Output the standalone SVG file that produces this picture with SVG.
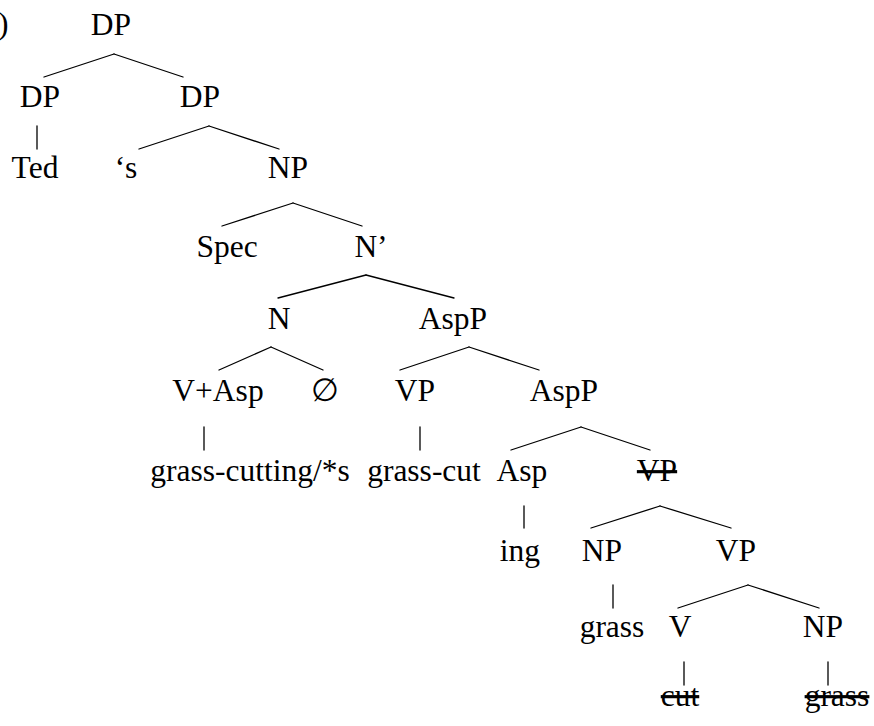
<svg xmlns="http://www.w3.org/2000/svg" width="874" height="726" viewBox="0 0 874 726" font-family="Liberation Serif, Times New Roman, DejaVu Serif, serif">
<style>
text{font-family:Liberation Serif, Times New Roman, DejaVu Serif, serif;font-size:31.5px;fill:#000;text-anchor:middle}
.s{text-decoration:line-through}
#edges line{stroke:#000;stroke-width:1.3;stroke-linecap:round}
</style>
<rect width="874" height="726" fill="#fff"/>
<text x="-2" y="34" style="text-anchor:start" font-family="Liberation Serif, serif">)</text>
<g id="edges">
<line x1="114" y1="54" x2="44" y2="77"/><line x1="114" y1="54" x2="183" y2="77"/>
<line x1="37" y1="126" x2="37" y2="149"/>
<line x1="209" y1="126" x2="139" y2="149"/><line x1="209" y1="126" x2="279" y2="149"/>
<line x1="293" y1="203" x2="222" y2="226"/><line x1="293" y1="203" x2="362" y2="226"/>
<line x1="366" y1="275" x2="278" y2="298"/><line x1="366" y1="275" x2="454" y2="298"/>
<line x1="271" y1="347" x2="219" y2="370"/><line x1="271" y1="347" x2="323" y2="370"/>
<line x1="469" y1="347" x2="400" y2="370"/><line x1="469" y1="347" x2="539" y2="370"/>
<line x1="204" y1="427" x2="204" y2="450"/>
<line x1="420" y1="427" x2="420" y2="450"/>
<line x1="581" y1="427" x2="511" y2="450"/><line x1="581" y1="427" x2="650" y2="450"/>
<line x1="524" y1="506" x2="524" y2="528"/>
<line x1="660" y1="506" x2="591" y2="528"/><line x1="660" y1="506" x2="731" y2="528"/>
<line x1="613" y1="585" x2="613" y2="608"/>
<line x1="748" y1="585" x2="678" y2="608"/><line x1="748" y1="585" x2="819" y2="608"/>
<line x1="684" y1="662" x2="684" y2="685"/>
<line x1="828" y1="662" x2="828" y2="685"/>
</g>
<g id="n-dp0"><text x="111" y="35">DP</text></g>
<g id="n-dp1"><text x="40" y="107">DP</text></g>
<g id="n-dp2"><text x="200" y="107">DP</text></g>
<g id="n-ted"><text x="35" y="178">Ted</text></g>
<g id="n-s"><text x="126" y="178">‘s</text></g>
<g id="n-np1"><text x="288" y="178">NP</text></g>
<g id="n-spec"><text x="227" y="257">Spec</text></g>
<g id="n-nbar"><text x="371" y="257">N’</text></g>
<g id="n-n"><text x="279" y="329">N</text></g>
<g id="n-aspp1"><text x="453" y="329">AspP</text></g>
<g id="n-vasp"><text x="218" y="401">V+Asp</text></g>
<g id="n-null"><text x="325" y="401">∅</text></g>
<g id="n-vp1"><text x="415" y="401">VP</text></g>
<g id="n-aspp2"><text x="564" y="401">AspP</text></g>
<g id="n-gcs"><text x="250" y="481">grass-cutting/*s</text></g>
<g id="n-gc"><text x="424" y="481">grass-cut</text></g>
<g id="n-asp"><text x="522" y="481">Asp</text></g>
<g id="n-vp2"><text class="s" x="657" y="481">VP</text></g>
<g id="n-ing"><text x="520" y="561">ing</text></g>
<g id="n-np2"><text x="602" y="561">NP</text></g>
<g id="n-vp3"><text x="736" y="561">VP</text></g>
<g id="n-grass1"><text x="612" y="637">grass</text></g>
<g id="n-v"><text x="680" y="637">V</text></g>
<g id="n-np3"><text x="823" y="637">NP</text></g>
<g id="n-cut"><text class="s" x="680" y="706">cut</text></g>
<g id="n-grass2"><text class="s" x="837" y="706">grass</text></g>
</svg>
